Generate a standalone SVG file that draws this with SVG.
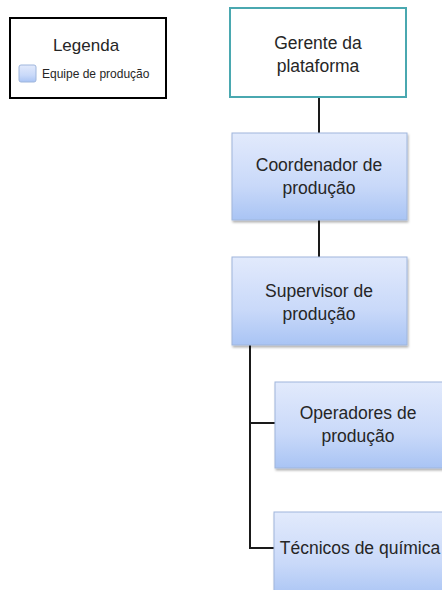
<svg xmlns="http://www.w3.org/2000/svg" width="442" height="590" viewBox="0 0 442 590">
<defs>
<linearGradient id="blue" x1="0" y1="0" x2="0" y2="1">
<stop offset="0" stop-color="#e2eafc"/>
<stop offset="0.6" stop-color="#c9d9f9"/>
<stop offset="1" stop-color="#a9c4f4"/>
</linearGradient>
<filter id="sh" x="-10%" y="-10%" width="130%" height="130%">
<feDropShadow dx="1" dy="2" stdDeviation="1.2" flood-color="#000" flood-opacity="0.3"/>
</filter>
<style>
.t{font-family:"Liberation Sans",Arial,sans-serif;font-size:17.5px;fill:#262626;text-anchor:middle}
.b{fill:url(#blue);stroke:#9fb6dc;stroke-width:1;filter:url(#sh)}
.c{stroke:#1a1a1a;stroke-width:2;fill:none}
</style>
</defs>
<rect width="442" height="590" fill="#fff"/>
<g id="legend">
<rect x="10" y="18" width="156" height="80" fill="#fff" stroke="#000" stroke-width="2"/>
<text x="86" y="51" class="t" style="font-size:17px">Legenda</text>
<rect x="19" y="65" width="17" height="17" rx="2" fill="url(#blue)" stroke="#9fb6dc"/>
<text x="42" y="78" style="font-family:'Liberation Sans',Arial,sans-serif;font-size:12px;fill:#262626">Equipe de produção</text>
</g>
<g id="connectors">
<line class="c" x1="319" y1="97" x2="319" y2="133"/>
<line class="c" x1="319" y1="220" x2="319" y2="257"/>
<polyline class="c" points="250,345 250,548 275,548"/>
<line class="c" x1="250" y1="423" x2="275" y2="423"/>
</g>
<g id="gerente">
<rect x="230" y="8" width="176" height="89" fill="#fff" stroke="#4aa8b0" stroke-width="2"/>
<text x="318" y="49" class="t">Gerente da</text>
<text x="318" y="72" class="t">plataforma</text>
</g>
<g id="coordenador">
<rect x="232" y="133" width="175" height="87" class="b"/>
<text x="319" y="171" class="t">Coordenador de</text>
<text x="319" y="194" class="t">produção</text>
</g>
<g id="supervisor">
<rect x="232" y="257" width="175" height="88" class="b"/>
<text x="319" y="297" class="t">Supervisor de</text>
<text x="319" y="320" class="t">produção</text>
</g>
<g id="operadores">
<rect x="275" y="382" width="176" height="86" class="b"/>
<text x="358" y="419" class="t">Operadores de</text>
<text x="358" y="442" class="t">produção</text>
</g>
<g id="tecnicos">
<rect x="274" y="512" width="176" height="86" class="b"/>
<text x="360" y="554" class="t">Técnicos de química</text>
</g>
</svg>
